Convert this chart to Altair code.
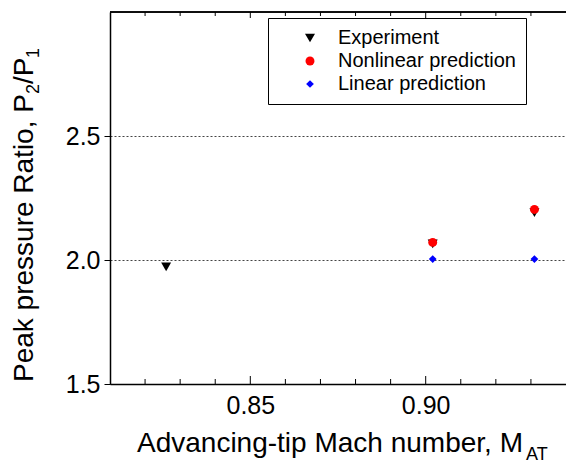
import altair as alt
import pandas as pd

# ---- data ----
series_names = ["Experiment", "Nonlinear prediction", "Linear prediction"]
exp_x = [0.826, 0.902, 0.931]
exp_y = [1.972, 2.065, 2.191]
nl_x = [0.902, 0.931]
nl_y = [2.071, 2.204]
lin_x = [0.902, 0.931]
lin_y = [2.004, 2.004]

x_major = [0.85, 0.90]
x_minor = [0.82, 0.83, 0.84, 0.86, 0.87, 0.88, 0.89, 0.91, 0.92, 0.93]
y_major = [1.5, 2.0, 2.5]

x_title = "Advancing-tip Mach number, M"
x_title_sub = "AT"
y_title_main = "Peak pressure Ratio, P"
y_title_sub1 = "2"
y_title_mid = "/P"
y_title_sub2 = "1"

FONT = "Liberation Sans"
W, H = 456, 372

rows = []
for x, y in zip(exp_x, exp_y):
    rows.append({"x": x, "y": y, "series": series_names[0]})
for x, y in zip(nl_x, nl_y):
    rows.append({"x": x, "y": y, "series": series_names[1]})
for x, y in zip(lin_x, lin_y):
    rows.append({"x": x, "y": y, "series": series_names[2]})
df = pd.DataFrame(rows)

xscale = alt.Scale(domain=[0.81, 0.94], zero=False, nice=False)
yscale = alt.Scale(domain=[1.5, 3.0], zero=False, nice=False)

points = alt.Chart(df).mark_point(filled=True, opacity=1).encode(
    x=alt.X("x:Q", scale=xscale,
            axis=alt.Axis(values=x_major, format=".2f", ticks=False, grid=False,
                          labelFontSize=25, labelPadding=9, labelFont=FONT,
                          labelColor="black", domainColor="black", domainWidth=1.5,
                          title=None)),
    y=alt.Y("y:Q", scale=yscale,
            axis=alt.Axis(values=y_major, format=".1f", tickSize=6, tickColor="black",
                          tickWidth=1, domainColor="black", domainWidth=1.5,
                          grid=True, gridDash=[2, 2], gridColor="#444", gridWidth=1,
                          labelFontSize=25, labelPadding=4, labelFont=FONT,
                          labelColor="black", title=None)),
    color=alt.Color("series:N",
                    scale=alt.Scale(domain=series_names, range=["black", "#ff0000", "#0000ff"]),
                    legend=alt.Legend(title=None,
                                      orient="none", legendX=158, legendY=6,
                                      strokeColor="black", fillColor="white", padding=10,
                                      labelFontSize=20, labelFont=FONT, labelColor="black",
                                      labelLimit=400,
                                      symbolSize=110, symbolOffset=22, labelOffset=18,
                                      rowPadding=3, symbolStrokeWidth=0)),
    shape=alt.Shape("series:N",
                    scale=alt.Scale(domain=series_names, range=["triangle-down", "circle", "diamond"])),
    size=alt.Size("series:N", scale=alt.Scale(domain=series_names, range=[100, 60, 250]),
                  legend=None),
)

ticks_major = pd.DataFrame({"x": x_major})
ticks_minor = pd.DataFrame({"x": x_minor})

bottom_major = alt.Chart(ticks_major).mark_rule(color="black", strokeWidth=1).encode(
    x=alt.X("x:Q", scale=xscale), y=alt.value(H), y2=alt.value(H - 8))
bottom_minor = alt.Chart(ticks_minor).mark_rule(color="black", strokeWidth=1).encode(
    x=alt.X("x:Q", scale=xscale), y=alt.value(H), y2=alt.value(H - 5))
top_major = alt.Chart(ticks_major).mark_rule(color="black", strokeWidth=1).encode(
    x=alt.X("x:Q", scale=xscale), y=alt.value(0), y2=alt.value(6))
top_minor = alt.Chart(ticks_minor).mark_rule(color="black", strokeWidth=1).encode(
    x=alt.X("x:Q", scale=xscale), y=alt.value(0), y2=alt.value(4))
top_line = alt.Chart(ticks_major).mark_rule(color="black", strokeWidth=1.5).encode(
    x=alt.value(0), x2=alt.value(W), y=alt.value(0))

def label(text, size, x, y, angle=0):
    return alt.Chart(pd.DataFrame({"t": [text]})).mark_text(
        align="left", baseline="alphabetic", font=FONT, fontSize=size,
        color="black", angle=angle).encode(
        text="t:N", x=alt.value(x), y=alt.value(y))

xt = label(x_title, 28, 27, 440)
xts = label(x_title_sub, 18, 416, 448)
yt1 = label(y_title_main, 28, -77, 370, angle=270)
yt2 = label(y_title_sub1, 18, -71, 82, angle=270)
yt3 = label(y_title_mid, 28, -77, 72, angle=270)
yt4 = label(y_title_sub2, 18, -71, 46, angle=270)

chart = alt.layer(
    top_line, bottom_major, bottom_minor, top_major, top_minor, points,
    xt, xts, yt1, yt2, yt3, yt4
).properties(
    width=W, height=H,
    padding={"left": 110, "top": 12, "right": 0, "bottom": 77},
    autosize=alt.AutoSizeParams(type="none"),
).configure_view(stroke=None).configure(background="white")

chart.save("out.html", embed_options={"renderer": "svg", "actions": False})
